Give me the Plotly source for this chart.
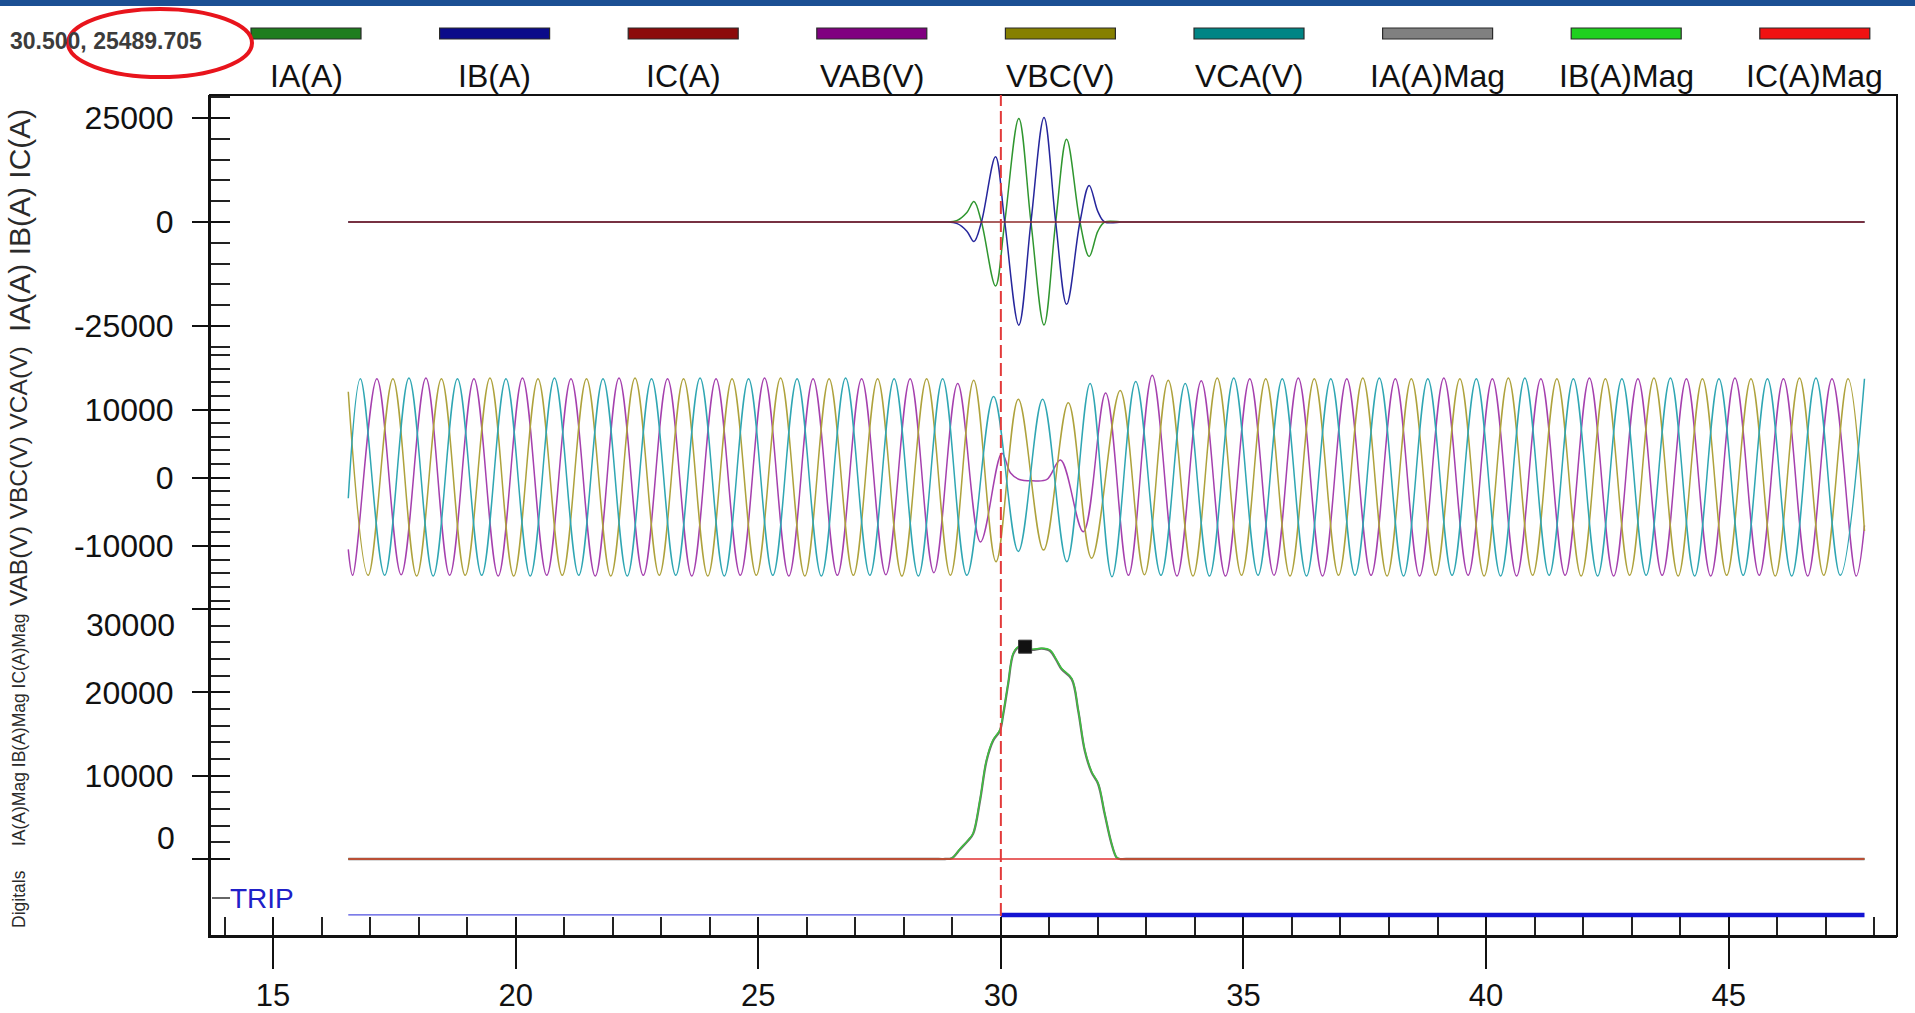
import plotly.graph_objects as go

# ---------------- data ----------------
SERIES_NAMES = ["IA(A)", "IB(A)", "IC(A)", "VAB(V)", "VBC(V)", "VCA(V)",
                "IA(A)Mag", "IB(A)Mag", "IC(A)Mag"]
LEGEND_COLORS = ["#1e7d1e", "#0b0b8a", "#8c0b0b", "#800080", "#868000",
                 "#008585", "#808080", "#1fd01f", "#f01212"]
LINE_COLORS = ["#2f962f", "#26269c", "#8e2a2a", "#a540ae", "#aea23c",
               "#2fa6b3", "#6a6a6a", "#3cc43c", "#e03030"]

# currents (A) - extrema / zero crossings read from the record
IA_T = [16.55, 28.70, 28.85, 29.10, 29.30, 29.445, 29.60, 29.89, 30.08, 30.37,
        30.62, 30.89, 31.13, 31.355, 31.63, 31.82, 32.00, 32.14, 32.49, 32.65,
        47.80]
IA_V = [0, 0, 0, 400, 2300, 4900, 0, -15400, 0, 24900,
        0, -24750, 0, 19900, 0, -8300, -2200, 0, 0, 0,
        0]
IB_T = [16.55, 28.70, 28.85, 29.10, 29.30, 29.445, 29.60, 29.89, 30.08, 30.37,
        30.62, 30.89, 31.13, 31.355, 31.63, 31.82, 32.00, 32.14, 32.49, 32.65,
        47.80]
IB_V = [0, 0, 0, -400, -2200, -4700, 0, 15700, 0, -24800,
        0, 25100, 0, -19800, 0, 8800, 2500, 0, 0, 0,
        0]
IC_T = [16.55, 47.80]
IC_V = [0, 0]

# voltages (V) - peaks / troughs read from the record
VAB_T = [16.55, 16.64, 17.14, 17.64, 18.15, 18.64, 19.14, 19.64, 20.14, 20.64,
         21.14, 21.64, 22.13, 22.63, 23.13, 23.63, 24.13, 24.63, 25.13, 25.63,
         26.13, 26.63, 27.13, 27.63, 28.13, 28.62, 29.11, 29.58, 30.02, 30.20,
         30.38, 30.65, 30.95, 31.23, 31.70, 32.16, 32.63, 33.12, 33.63, 34.13,
         34.63, 35.13, 35.63, 36.13, 36.63, 37.13, 37.63, 38.13, 38.63, 39.13,
         39.63, 40.13, 40.63, 41.13, 41.63, 42.13, 42.63, 43.13, 43.63, 44.13,
         44.63, 45.13, 45.63, 46.13, 46.63, 47.13, 47.63, 47.80]
VAB_V = [-10500, -14300, 14500, -14200, 14600, -14300, 14500, -14400, 14600, -14300,
         14500, -14400, 14600, -14300, 14500, -14400, 14500, -14300, 14600, -14400,
         14500, -14300, 14500, -14200, 14500, -13900, 13800, -9400, 3600, 700,
         -250, -450, -250, 2600, -7900, 12400, -14300, 15000, -14400, 14200,
         -14400, 14500, -14300, 14600, -14400, 14500, -14300, 14500, -14400, 14600,
         -14300, 14500, -14400, 14500, -14300, 14600, -14400, 14500, -14300, 14500,
         -14400, 14600, -14300, 14500, -14400, 14500, -14400, -7000]
VBC_T = [16.55, 16.96, 17.47, 17.96, 18.47, 18.96, 19.47, 19.96, 20.46, 20.96,
         21.46, 21.96, 22.46, 22.96, 23.46, 23.96, 24.46, 24.96, 25.46, 25.96,
         26.46, 26.96, 27.46, 27.96, 28.47, 28.96, 29.44, 29.90, 30.36, 30.88,
         31.39, 31.87, 32.46, 32.96, 33.45, 33.96, 34.46, 34.96, 35.46, 35.96,
         36.46, 36.96, 37.46, 37.96, 38.46, 38.96, 39.46, 39.96, 40.46, 40.96,
         41.46, 41.96, 42.46, 42.96, 43.46, 43.96, 44.46, 44.96, 45.46, 45.96,
         46.46, 46.96, 47.46, 47.80]
VBC_V = [12600, -14300, 14500, -14400, 14500, -14300, 14600, -14400, 14500, -14300,
         14500, -14400, 14600, -14300, 14500, -14400, 14500, -14300, 14600, -14400,
         14500, -14300, 14500, -14400, 14500, -14300, 14300, -12300, 11500, -10600,
         11000, -11800, 12800, -14200, 14300, -14400, 14600, -14300, 14500, -14400,
         14500, -14300, 14600, -14400, 14500, -14300, 14500, -14400, 14600, -14300,
         14500, -14400, 14500, -14300, 14600, -14400, 14500, -14300, 14500, -14400,
         14600, -14300, 14500, -7800]
VCA_T = [16.55, 16.80, 17.30, 17.80, 18.30, 18.80, 19.30, 19.80, 20.30, 20.80,
         21.30, 21.80, 22.30, 22.80, 23.30, 23.80, 24.30, 24.80, 25.30, 25.80,
         26.30, 26.80, 27.30, 27.80, 28.30, 28.80, 29.30, 29.85, 30.36, 30.86,
         31.36, 31.84, 32.29, 32.78, 33.30, 33.80, 34.30, 34.80, 35.30, 35.80,
         36.30, 36.80, 37.30, 37.80, 38.30, 38.80, 39.30, 39.80, 40.30, 40.80,
         41.30, 41.80, 42.30, 42.80, 43.30, 43.80, 44.30, 44.80, 45.30, 45.80,
         46.30, 46.80, 47.30, 47.80]
VCA_V = [-3000, 14500, -14300, 14600, -14400, 14500, -14300, 14500, -14400, 14600,
         -14300, 14500, -14400, 14500, -14300, 14600, -14400, 14500, -14300, 14500,
         -14400, 14600, -14300, 14500, -14400, 14500, -14300, 11900, -10800, 11500,
         -12300, 13800, -14500, 14100, -14300, 13800, -14400, 14600, -14300, 14500,
         -14400, 14500, -14300, 14600, -14400, 14500, -14300, 14500, -14400, 14600,
         -14300, 14500, -14400, 14500, -14300, 14600, -14400, 14500, -14300, 14500,
         -14400, 14600, -14300, 14500]

# current magnitudes (A)
MAG_T = [16.55, 28.72, 28.85, 28.99, 29.155, 29.33, 29.43, 29.57, 29.705, 29.84,
         29.98, 30.05, 30.15, 30.255, 30.36, 30.50, 30.63, 30.84, 31.01, 31.15,
         31.25, 31.46, 31.595, 31.73, 31.87, 32.005, 32.14, 32.28, 32.385, 32.45,
         32.58, 47.80]
IAMAG_V = [0, 0, 0, 100, 1150, 2250, 3050, 7000, 11800, 14200,
           15400, 17400, 21000, 24600, 25400, 25420, 25100, 25250, 25000, 23800,
           22800, 21600, 17800, 13000, 10400, 9000, 5400, 1850, 180, 0,
           0, 0]
IBMAG_V = [0, 0, 0, 100, 1200, 2300, 3100, 7100, 11900, 14300,
           15500, 17500, 21100, 24700, 25500, 25490, 25200, 25300, 25100, 23900,
           22900, 21700, 17900, 13100, 10500, 9100, 5500, 1900, 200, 0,
           0, 0]
ICMAG_T = [16.55, 47.80]
ICMAG_V = [0, 0]

# digital channel
TRIP_T = [16.55, 30.00, 47.80]
TRIP_STATE = [0, 1, 1]

FAULT_T = 30.0
CURSOR_X = 30.500
CURSOR_Y = 25489.705

X_TICKS = [15, 20, 25, 30, 35, 40, 45]
I_TICKS = [-25000, 0, 25000]
V_TICKS = [-10000, 0, 10000]
MAG_TICKS = [0, 10000, 20000, 30000]

for a, b in [(IA_T, IA_V), (IB_T, IB_V), (VAB_T, VAB_V), (VBC_T, VBC_V),
             (VCA_T, VCA_V), (MAG_T, IAMAG_V), (MAG_T, IBMAG_V)]:
    assert len(a) == len(b), (len(a), len(b))

# ---------------- geometry ----------------
W, H = 1915, 1013
ML, MR, MT, MB = 210, 18, 95, 77
PW = W - ML - MR
PH = H - MT - MB


def px_x(px):
    return (px - ML) / PW


def px_y(py):
    return (H - MB - py) / PH


X_RANGE = [13.70, 48.47]
Y1_RANGE = [-30288, 30528]
Y2_RANGE = [-18642, 19010]
Y3_RANGE = [-1561, 30493]
Y4_RANGE = [0, 1]
TRIP_LEVEL = 0.33

D1 = [px_y(348), 1.0]
D2 = [px_y(605), px_y(348)]
D3 = [px_y(872), px_y(605)]
D4 = [0.0, px_y(872)]

FONT = "Liberation Sans, Arial, sans-serif"
LW = 1.5

fig = go.Figure()


def add_line(t, v, yax, color, width=LW, shape="spline"):
    fig.add_trace(go.Scatter(x=t, y=v, xaxis="x", yaxis=yax, mode="lines",
                             line=dict(color=color, width=width, shape=shape,
                                       smoothing=1.0),
                             showlegend=False, hoverinfo="skip"))


# currents
add_line(IA_T, IA_V, "y", LINE_COLORS[0])
add_line(IB_T, IB_V, "y", LINE_COLORS[1])
add_line(IC_T, IC_V, "y", LINE_COLORS[2], shape="linear")
# voltages
add_line(VAB_T, VAB_V, "y2", LINE_COLORS[3])
add_line(VBC_T, VBC_V, "y2", LINE_COLORS[4])
add_line(VCA_T, VCA_V, "y2", LINE_COLORS[5])
# magnitudes
add_line(MAG_T, IAMAG_V, "y3", LINE_COLORS[6], width=2.3)
add_line(MAG_T, IBMAG_V, "y3", LINE_COLORS[7], width=1.4)
add_line(ICMAG_T, ICMAG_V, "y3", LINE_COLORS[8], shape="linear")
# cursor marker
fig.add_trace(go.Scatter(x=[CURSOR_X], y=[CURSOR_Y], xaxis="x", yaxis="y3",
                         mode="markers",
                         marker=dict(symbol="square", size=13, color="#111111",
                                     line=dict(color="#333333", width=1)),
                         showlegend=False, hoverinfo="skip"))
# digital TRIP: thin while 0, thick while 1
for i in range(len(TRIP_T) - 1):
    st = TRIP_STATE[i]
    fig.add_trace(go.Scatter(x=[TRIP_T[i], TRIP_T[i + 1]],
                             y=[TRIP_LEVEL, TRIP_LEVEL], xaxis="x", yaxis="y4",
                             mode="lines",
                             line=dict(color="#1414d2" if st else "#5050e0",
                                       width=4.5 if st else 1.2),
                             showlegend=False, hoverinfo="skip"))
# dummy traces so overlay tick axes are rendered
for ya in ["y5", "y6", "y7"]:
    fig.add_trace(go.Scatter(x=[None], y=[None], xaxis="x", yaxis=ya,
                             showlegend=False, hoverinfo="skip"))
fig.add_trace(go.Scatter(x=[None], y=[None], xaxis="x2", yaxis="y4",
                         showlegend=False, hoverinfo="skip"))

TICKFONT = dict(family=FONT, size=32, color="#111111")


def yaxis_main(domain, rng, tickvals, ticktext, minor_dtick):
    return dict(domain=domain, range=rng, anchor="x", tickvals=tickvals,
                ticktext=ticktext, ticks="outside", ticklen=16, tickwidth=2,
                tickcolor="#111111", ticklabelstandoff=12, automargin=False,
                minor=dict(ticks="inside", ticklen=20, tickwidth=2,
                           tickcolor="#222222", dtick=minor_dtick, tick0=0,
                           showgrid=False),
                showline=True, linecolor="#111111", linewidth=2,
                showgrid=False, zeroline=False, tickfont=TICKFONT,
                fixedrange=True)


def yaxis_overlay(base, rng, tickvals):
    return dict(overlaying=base, range=rng, anchor="x", tickvals=tickvals,
                ticks="inside", ticklen=20, tickwidth=2, tickcolor="#111111",
                showticklabels=False, showline=False, showgrid=False,
                zeroline=False, side="left", automargin=False)


fig.update_layout(
    width=W, height=H,
    margin=dict(l=ML, r=MR, t=MT, b=MB, pad=0, autoexpand=False),
    paper_bgcolor="white", plot_bgcolor="white",
    font=dict(family=FONT, color="#111111"),
    showlegend=False,
    xaxis=dict(domain=[0, 1], range=X_RANGE, anchor="y4", tickvals=X_TICKS,
               ticks="outside", ticklen=31, tickwidth=2, tickcolor="#111111",
               ticklabelstandoff=0, automargin=False,
               minor=dict(ticks="inside", ticklen=19, tickwidth=2,
                          tickcolor="#222222", dtick=1, tick0=0,
                          showgrid=False),
               showline=True, linecolor="#111111", linewidth=2,
               showgrid=False, zeroline=False,
               tickfont=dict(family=FONT, size=31, color="#111111")),
    xaxis2=dict(overlaying="x", range=X_RANGE, anchor="y4", tickvals=X_TICKS,
                ticks="inside", ticklen=19, tickwidth=2, tickcolor="#111111",
                showticklabels=False, showline=False, showgrid=False,
                zeroline=False, automargin=False),
    yaxis=yaxis_main(D1, Y1_RANGE, I_TICKS, [str(v) for v in I_TICKS], 5000),
    yaxis2=yaxis_main(D2, Y2_RANGE, V_TICKS, [str(v) for v in V_TICKS], 2000),
    yaxis3=yaxis_main(D3, Y3_RANGE, MAG_TICKS,
                      ["" if v in (MAG_TICKS[0], MAG_TICKS[-1]) else str(v)
                       for v in MAG_TICKS], 2000),
    yaxis4=dict(domain=D4, range=Y4_RANGE, anchor="x", showticklabels=False,
                ticks="", showline=True, linecolor="#111111", linewidth=2,
                showgrid=False, zeroline=False, automargin=False),
    yaxis5=yaxis_overlay("y", Y1_RANGE, I_TICKS),
    yaxis6=yaxis_overlay("y2", Y2_RANGE, V_TICKS),
    yaxis7=yaxis_overlay("y3", Y3_RANGE, MAG_TICKS),
)

shapes = []
annotations = []

# top blue band
shapes.append(dict(type="rect", xref="paper", yref="paper",
                   x0=px_x(-2), x1=px_x(W + 2), y0=px_y(6), y1=px_y(-2),
                   fillcolor="#1b4f93", line=dict(width=0), layer="above"))
# plot frame
shapes.append(dict(type="rect", xref="paper", yref="paper", x0=0, x1=1,
                   y0=0, y1=1, line=dict(color="#111111", width=2)))
# fault instant (dashed)
shapes.append(dict(type="line", xref="x", yref="paper", x0=FAULT_T, x1=FAULT_T,
                   y0=px_y(916), y1=1,
                   line=dict(color="#e23a3a", width=2, dash="13px,5px")))
# TRIP tick
shapes.append(dict(type="line", xref="paper", yref="paper", x0=px_x(212),
                   x1=px_x(230), y0=px_y(898), y1=px_y(898),
                   line=dict(color="#333333", width=1.5)))
annotations.append(dict(text="TRIP", xref="paper", yref="paper",
                        x=px_x(228), y=px_y(898), xanchor="left",
                        yanchor="middle", showarrow=False,
                        font=dict(family=FONT, size=28, color="#2020c8")))

# legend: bar above label
for i, name in enumerate(SERIES_NAMES):
    cx = 306 + i * 188.6
    shapes.append(dict(type="rect", xref="paper", yref="paper",
                       x0=px_x(cx - 55), x1=px_x(cx + 55),
                       y0=px_y(39), y1=px_y(28),
                       fillcolor=LEGEND_COLORS[i],
                       line=dict(color="#2a2a2a", width=1.2)))
    annotations.append(dict(text=name, xref="paper", yref="paper",
                            x=px_x(cx), y=px_y(76), xanchor="center",
                            yanchor="middle", showarrow=False,
                            font=dict(family=FONT, size=32, color="#111111")))

# shifted magnitude tick labels
annotations.append(dict(text=str(MAG_TICKS[-1]), xref="paper", yref="paper",
                        x=px_x(177), y=px_y(625), xanchor="right",
                        yanchor="middle", showarrow=False, font=TICKFONT))
annotations.append(dict(text=str(MAG_TICKS[0]), xref="paper", yref="paper",
                        x=px_x(177), y=px_y(838), xanchor="right",
                        yanchor="middle", showarrow=False, font=TICKFONT))

# panel titles (vertical)
titles = [("IA(A) IB(A) IC(A)", 221, 30),
          ("VAB(V) VBC(V) VCA(V)", 476, 24.5),
          ("IA(A)Mag IB(A)Mag IC(A)Mag", 730, 17.5),
          ("Digitals", 899, 17.5)]
for txt, cy, fs in titles:
    annotations.append(dict(text=txt, xref="paper", yref="paper",
                            x=px_x(19), y=px_y(cy), xanchor="center",
                            yanchor="middle", textangle=-90, showarrow=False,
                            font=dict(family=FONT, size=fs, color="#2a2a2a")))

# cursor readout and highlight ellipse
annotations.append(dict(text=f"{CURSOR_X:.3f}, {CURSOR_Y:.3f}", xref="paper",
                        yref="paper", x=px_x(8), y=px_y(41), xanchor="left",
                        yanchor="middle", showarrow=False,
                        font=dict(family=FONT, size=23, weight="bold",
                                  color="#3c3c3c")))
shapes.append(dict(type="circle", xref="paper", yref="paper",
                   x0=px_x(68), x1=px_x(252), y0=px_y(77), y1=px_y(9),
                   line=dict(color="#e8141c", width=4)))

fig.update_layout(shapes=shapes, annotations=annotations)
fig.write_html(
    "out.html",
    config={"displayModeBar": False, "staticPlot": True},
    post_script="document.body.style.margin='0';"
                "document.body.style.overflow='hidden';",
)
